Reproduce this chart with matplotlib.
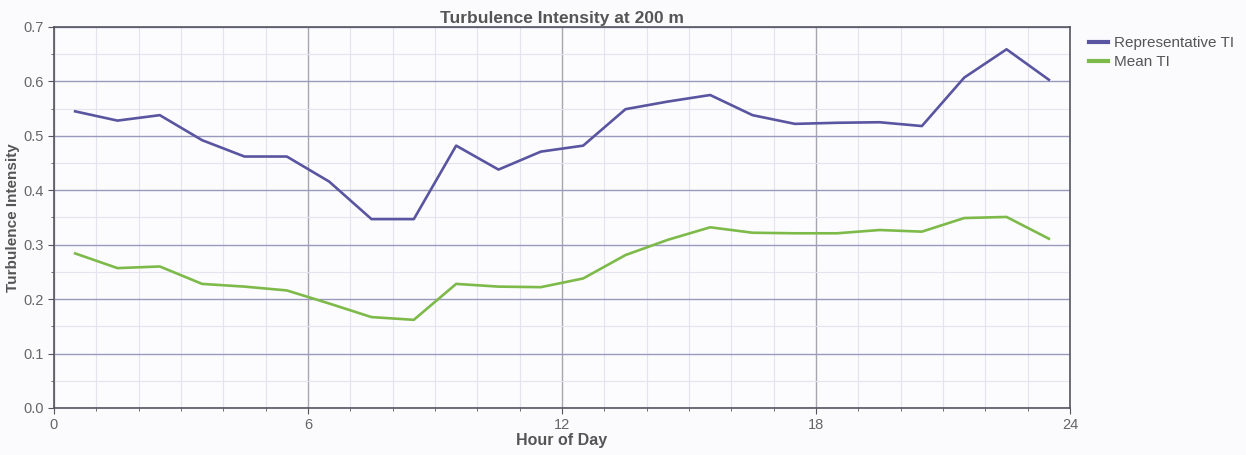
import numpy as np
import matplotlib
matplotlib.use("Agg")
import matplotlib.pyplot as plt
from matplotlib.ticker import MultipleLocator, FormatStrFormatter

plt.rcParams['font.family'] = ['Liberation Sans', 'DejaVu Sans']

# hourly bins, values at the middle of each hour
hours = np.arange(24) + 0.5
representative_ti = [0.545, 0.528, 0.538, 0.492, 0.462, 0.462, 0.416, 0.347,
                     0.347, 0.482, 0.438, 0.471, 0.482, 0.549, 0.563, 0.575,
                     0.538, 0.522, 0.524, 0.525, 0.518, 0.607, 0.659, 0.603]
mean_ti = [0.284, 0.257, 0.260, 0.228, 0.223, 0.216, 0.192, 0.167,
           0.162, 0.228, 0.223, 0.222, 0.238, 0.281, 0.309, 0.332,
           0.322, 0.321, 0.321, 0.327, 0.324, 0.349, 0.351, 0.311]

txt = "#555555"

fig = plt.figure(figsize=(12.46, 4.55), dpi=100)
fig.patch.set_facecolor("#fbfbfd")
ax = fig.add_axes([0.0433, 0.1033, 0.8155, 0.8374])
ax.set_facecolor("#fcfcfe")

ax.plot(hours, representative_ti, color="#5a55a0", lw=1.9, label="Representative TI")
ax.plot(hours, mean_ti, color="#7dba4a", lw=1.9, label="Mean TI")

ax.set_xlim(0, 24)
ax.set_ylim(0, 0.7)
ax.xaxis.set_major_locator(MultipleLocator(6))
ax.xaxis.set_minor_locator(MultipleLocator(1))
ax.yaxis.set_major_locator(MultipleLocator(0.1))
ax.yaxis.set_minor_locator(MultipleLocator(0.05))
ax.yaxis.set_major_formatter(FormatStrFormatter("%.1f"))

ax.grid(which="major", axis="x", color="#a6a6b0", lw=1.0)
ax.grid(which="major", axis="y", color="#9a98bc", lw=1.0)
ax.grid(which="minor", color="#e4e4ee", lw=0.8)
ax.set_axisbelow(True)

for s in ax.spines.values():
    s.set_color("#555560")
    s.set_linewidth(1.2)

ax.tick_params(which="major", length=4, color="#555560", labelsize=10.5,
               labelcolor="#666666", pad=3)
ax.tick_params(which="minor", length=2, color="#555560")

ax.set_title("Turbulence Intensity at 200 m", fontsize=12.5, fontweight="bold",
             color=txt, pad=3)
ax.set_xlabel("Hour of Day", fontsize=11.5, fontweight="bold", color=txt, labelpad=1)
ax.set_ylabel("Turbulence Intensity", fontsize=11, fontweight="bold", color=txt, labelpad=3)

leg = ax.legend(loc="upper left", bbox_to_anchor=(1.01, 1.0), frameon=False,
                fontsize=11, handlelength=1.2, handletextpad=0.4,
                labelspacing=0.35, borderaxespad=0.2)
for t in leg.get_texts():
    t.set_color(txt)
for h in leg.get_lines():
    h.set_linewidth(3)

fig.savefig("out.png", dpi=100, facecolor=fig.get_facecolor())
